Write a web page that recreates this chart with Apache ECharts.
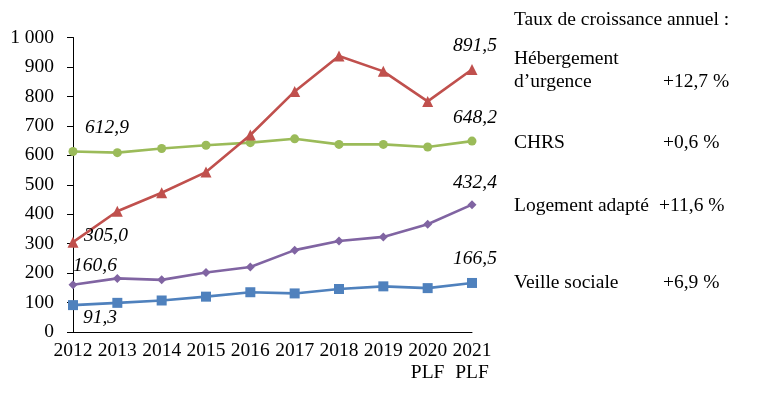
<!DOCTYPE html>
<html><head><meta charset="utf-8">
<script src="https://cdn.jsdelivr.net/npm/echarts@6/dist/echarts.min.js"></script>
<style>html,body{margin:0;padding:0;background:#fff}#c{width:774px;height:396px}</style>
</head><body><div id="c"></div>
<script>
var categories = ['2012','2013','2014','2015','2016','2017','2018','2019','2020\nPLF','2021\nPLF'];
var urgence = [305.0, 410, 473, 543, 669, 817, 937, 885, 783, 891.5];
var chrs = [612.9, 609, 623, 634, 643, 656, 637, 637, 628, 648.2];
var logement = [160.6, 182, 177, 202, 221, 278, 309, 323, 366, 432.4];
var veille = [91.3, 99, 107, 120, 135, 131, 146, 155, 149, 166.5];
var yTicks = [0, 100, 200, 300, 400, 500, 600, 700, 800, 900, 1000];
var panelTitle = 'Taux de croissance annuel :';
var panelNames = [['Hébergement', 'd\u2019urgence'], ['CHRS'], ['Logement adapté'], ['Veille sociale']];
var panelRates = ['+12,7 %', '+0,6 %', '+11,6 %', '+6,9 %'];

var FONT = '"Liberation Serif", "Times New Roman", serif';
var FS = 19.5;
function fmt(v){ return v.toFixed(1).replace('.', ','); }
function withLabels(arr, firstOff, lastOff){
  return arr.map(function(v, i){
    if (i === 0 || i === arr.length - 1) {
      return { value: v, label: { show: true, position: 'inside', offset: i === 0 ? firstOff : lastOff,
        formatter: fmt(v), fontFamily: FONT, fontStyle: 'italic', fontSize: FS, color: '#000' } };
    }
    return v;
  });
}
var chart = echarts.init(document.getElementById('c'), null, {renderer: 'canvas'});
function mk(name, data, color, symbol, size, fo, lo){
  return { name: name, type: 'line', data: withLabels(data, fo, lo), symbol: symbol, symbolSize: size,
    lineStyle: { color: color, width: 2.6 }, itemStyle: { color: color }, animation: false, z: 3 };
}
var graphics = [];
graphics.push({ type: 'text', left: 514, top: 10, style: { text: panelTitle, font: FS + 'px ' + FONT, fill: '#000' } });
var rowY = [[60, 83], [144], [207], [284]];
panelNames.forEach(function(lines, i){
  lines.forEach(function(t, j){
    graphics.push({ type: 'text', left: 514, top: rowY[i][j] - 11, style: { text: t, font: FS + 'px ' + FONT, fill: '#000' } });
  });
  var ry = rowY[i][rowY[i].length - 1];
  graphics.push({ type: 'text', left: i === 2 ? 659 : 663, top: ry - 11, style: { text: panelRates[i], font: FS + 'px ' + FONT, fill: '#000' } });
});
chart.setOption({
  backgroundColor: '#fff',
  animation: false,
  grid: { left: 73, right: 302, top: 37.5, bottom: 64, containLabel: false },
  xAxis: { type: 'category', data: categories, boundaryGap: false,
    axisLine: { lineStyle: { color: '#000', width: 1 } }, axisTick: { show: false },
    axisLabel: { color: '#000', fontFamily: FONT, fontSize: FS, lineHeight: 22, margin: 8, interval: 0 },
    splitLine: { show: false } },
  yAxis: { type: 'value', min: yTicks[0], max: yTicks[yTicks.length - 1], interval: 100,
    axisLine: { show: true, lineStyle: { color: '#000', width: 1 } },
    axisTick: { show: true, length: 6, lineStyle: { color: '#000' } },
    axisLabel: { color: '#000', fontFamily: FONT, fontSize: FS, margin: 19,
      formatter: function(v){ return v >= 1000 ? String(v).replace(/(\d)(\d{3})$/, '$1 $2') : String(v); } },
    splitLine: { show: false } },
  series: [
    mk('Veille sociale', veille, '#4F81BD', 'rect', 10, [27, 13], [3, -24]),
    mk('Logement adapté', logement, '#8064A2', 'diamond', 9, [22, -19], [3, -22]),
    mk('CHRS', chrs, '#9BBB59', 'circle', 9, [34, -24], [3, -23]),
    mk('Hébergement d\u2019urgence', urgence, '#C0504D', 'triangle', 11, [33, -6], [3, -24])
  ],
  graphic: graphics
});
</script></body></html>
